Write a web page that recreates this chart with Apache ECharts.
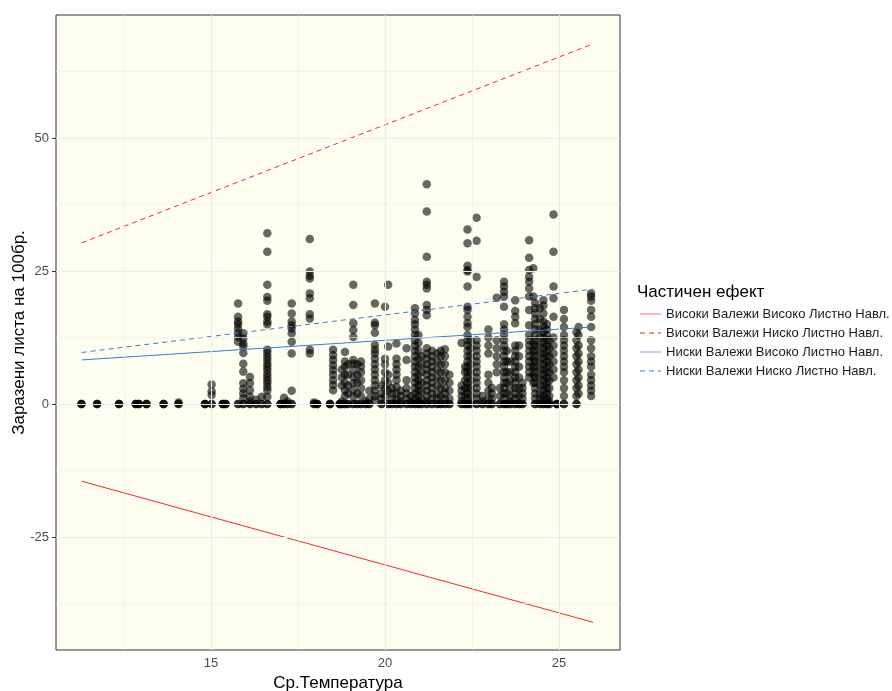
<!DOCTYPE html>
<html><head><meta charset="utf-8">
<script src="https://cdn.jsdelivr.net/npm/echarts@6/dist/echarts.min.js"></script>
<style>html,body{margin:0;padding:0;background:#fff}#c{width:892px;height:691px}</style>
</head><body><div id="c"></div><script>
// ---- data ----
const tempColumns = [11.28,11.73,12.36,12.84,12.93,13.15,13.64,14.07,14.83,15.02,15.34,15.42,15.78,15.93,16.12,16.3,16.46,16.62,17.0,17.1,17.2,17.32,17.84,17.96,18.05,18.42,18.51,18.7,18.76,18.85,18.94,19.09,19.2,19.31,19.45,19.55,19.71,19.9,20.0,20.09,20.2,20.33,20.45,20.62,20.75,20.86,20.96,21.05,21.2,21.35,21.5,21.6,21.72,21.85,22.2,22.3,22.37,22.45,22.63,22.8,22.97,23.07,23.21,23.3,23.42,23.5,23.6,23.74,23.85,23.95,24.14,24.26,24.31,24.45,24.55,24.65,24.72,24.84,24.94,25.14,25.5,25.56,25.92];
const infectedByColumn = [
 [0,0,0],[0,0,0],[0,0,0],[0,0,0],[0,0,0],[0,0,0],[0,0,0],[0,0,0.3],[0,0,0],
 [0,0,1.7,2.4,3.7],[0,0,0],[0,0,0],
 [0,0,11.7,12.6,13.4,14.2,15.0,15.5,16.4,18.9],
 [0,0,1.1,2.0,2.9,3.9,6.1,7.6,9.6,10.8,11.4,12.3,13.3],
 [0,0,0.5,1.4,2.6,3.9,5.1],
 [0,0,0.8],
 [0,0,1.4],
 [0,0,1.4,2.6,3.2,3.9,4.5,5.1,5.7,6.4,7.0,7.6,8.3,8.9,9.6,10.2,15.0,15.5,16.4,16.9,19.4,20.1,22.4,28.6,32.1],
 [0,0,0],[0,0,1.2],[0,0,0.5],
 [0,0,2.5,9.5,11.7,13.3,14.2,14.8,15.5,17.0,18.9],
 [9.5,10.2,16.1,16.9,19.9,20.8,23.6,24.1,24.9,31.0],
 [0,0,0.3],[0,0,0],[0,0,0],
 [2.6,3.6,4.5,5.5,6.4,7.3,8.3,9.2,10.2],
 [0,0,0],
 [0,0,0.5,3.5,5.0,6.5],
 [0,0,1.5,2.6,4.0,5.5,7.0,8.0,9.8],
 [0,0,2,3.5,5.5,7.5],
 [0,0,1.4,2.6,3.9,5.1,6.4,7.6,8.3,12.6,13.9,15.2,18.6,22.4],
 [0,0,2,4,5.5,7.5],
 [0,0,1.5,3,4.5,6,7,8],
 [0,0,0.5],
 [0,0,1,2.5],
 [0.8,1.5,2.5,3.5,4.5,5.5,6.5,7.5,8.5,9.5,10.2,11.1,13.4,14.8,15.3,18.9],
 [0,0,1,2,3.5],
 [1.5,3,4.5,6,7.5,8.5,18.3],
 [0,0,2.5,4,5.5,10.8,22.4],
 [0,0,1,2,3],
 [0,0,0.8,2,3.2,4.5,5.5,6.5,7.5,8.5,11.4],
 [0,0,0.5,1.5,2.5],
 [0,0,1,2,3,4.5,8.3,10.5],
 [0,0,0.5,1.5],
 [0,0,1,2,3,4,5,6,7,8,9,10,11,12,13,14,15,15.8,17.0,18.0],
 [0,0,0.5,1.5,2.5,3.5,4.5,5.5,7,8.5,10,11.5,13],
 [0,0,1,2.5,4,6,7.5,9],
 [0,0,0.5,1.5,2.5,3.5,4.5,5.5,6.5,7.5,8.5,9.5,10.5,16.7,17.7,18.6,21.7,22.4,23.0,27.7,36.2,41.3],
 [0,0,1,2,3,4,5,6,7,8,9,10],
 [0,0,1,2,3.5,5,6.5,8,9.5],
 [0,0,1.5,3,4.5,6,7.5,9,10],
 [0,0,1,2,3,4.5,6,7.5,9,10.3],
 [0,0,1,2.5,4,5.5],
 [0,0,0.5,1.5,2.5,3.5,11.5],
 [0,0,1.5,3,4.5,6,7],
 [0,0,1,2,3,4,5,6,7,8,9,10,11,12,13,14.5,15.2,16.4,17.7,18.3,22.1,24.9,25.2,26.0,30.2,32.8],
 [0,0,1.5,3,4.5,6,7.5,9,10.5,12],
 [0,0,1,2,3,4,5,6,7,8,9,10,11,12,23.9,30.7,35.0],
 [0,0,0.5,1.5],
 [0,0,1,2.5,4,5.5,9.5,11,12.5,14],
 [0,0,1,2,3],
 [6,7.5,9,10.5,12,20.0],
 [0,0,1.5,3],
 [0,0,1,2,3,4,5,6,7,8,9,10,11,12,13,14,15,18.3,20.2,21.1,22.1,23.0],
 [0,0,2,4,6,8,10],
 [0,0,0.5,1.5,3,4.5,6,8],
 [0,0,1,2,3,4,5,6,7,8,9,10,11,15.2,16.4,17.5,19.5],
 [0,0,1.5,3,5,7,9,11],
 [0,0,1,2,3,4],
 [5,6,7,8,9,10,11,12,13,14.8,17.7,20.2,21.7,23.0,23.9,25.2,27.5,30.8],
 [4,5.5,7,8.5,10,11.5,20.2,25.5],
 [0,0,1,2,3,4,5,6,7,8,9,10,11,12,13,14,15,16,17,18,19],
 [0,0,1,2,3.5,5,6.5,8,9.5,11,12.5,14,16,18],
 [0,0,0.7,1.5,2.5,3.5,4.5,5.5,6.5,7.5,8.5,9.5,10.5,11.5,12.5,13.5,14.5,15.5,17,18.5,19.5],
 [0,0,1,2,3,4,5,6,7,8,9,10,11,12,13,14,15],
 [0,0,0.5,1.5,3,4.5,6,7.5,9,10.5,12],
 [5,6.5,8,9.5,11,12.5,16.4,19.9,22.1,28.6,35.6],
 [0,0,0],
 [0,0,1.5,3,4.5,6,7,8,9,10,11,12,13,14.5,16,17.7],
 [0,0,1.5,3,4.5,6,7.5,9,10.5,12,13.5],
 [2,3.5,5,6.5,8,9.5,11,13,14.5],
 [1.5,2.5,3.5,4.5,5.5,7,8,9,10.5,12,14.5,16.4,17.7,19.4,20.2,20.8]
];
const effectX = [11.29, 25.98];
const highRainHighLeaf = [-14.5, -41.0];
const highRainLowLeaf = [30.3, 67.7];
const lowRainHighLeaf = [8.3, 14.5];
const lowRainLowLeaf = [9.7, 21.6];
const seriesNames = ['Високи Валежи Високо Листно Навл.','Високи Валежи Ниско Листно Навл.','Ниски Валежи Високо Листно Навл.','Ниски Валежи Ниско Листно Навл.'];
const legendTitle = 'Частичен ефект';
const xTicks = [15, 20, 25];
const xMinor = [12.5, 17.5, 22.5];
const yTicks = [-25, 0, 25, 50];
const yMinor = [-37.5, -12.5, 12.5, 37.5, 62.5];

// ---- build ----
const pts = [];
tempColumns.forEach((t, i) => infectedByColumn[i].forEach(v => pts.push([t, v])));
const mk = ys => effectX.map((x, i) => [x, ys[i]]);
const FONT = '"Liberation Sans", Arial, sans-serif';
const RED = '#F0282D', BLUE = '#3A7DC9';
const lineColors = [RED, RED, BLUE, BLUE];
const keyColors = ['rgba(240,40,45,0.6)', RED, 'rgba(58,125,201,0.6)', BLUE];
const lineTypes = ['solid', [5, 4], 'solid', [5, 4]];
const lineValues = [highRainHighLeaf, highRainLowLeaf, lowRainHighLeaf, lowRainLowLeaf];

const gridLines = [];
xTicks.forEach(v => gridLines.push({xAxis: v, lineStyle: {width: 1.1}}));
yTicks.forEach(v => gridLines.push({yAxis: v, lineStyle: {width: 1.1}}));
xMinor.forEach(v => gridLines.push({xAxis: v, lineStyle: {width: 0.6}}));
yMinor.forEach(v => gridLines.push({yAxis: v, lineStyle: {width: 0.6}}));

const legendGraphics = [{type: 'text', left: 637, top: 284,
  style: {text: legendTitle, fill: '#000', font: '17px ' + FONT}}];
seriesNames.forEach((n, i) => {
  const y = 314 + i * 19;
  legendGraphics.push({type: 'line', shape: {x1: 640, y1: y, x2: 661, y2: y},
    style: {stroke: keyColors[i], lineWidth: 1.1, lineDash: i % 2 ? [5, 4] : null}});
  legendGraphics.push({type: 'text', x: 666, y: y,
    style: {text: n, fill: '#1a1a1a', font: '13px ' + FONT, verticalAlign: 'middle', align: 'left'}});
});

const chart = echarts.init(document.getElementById('c'), null, {renderer: 'canvas'});
chart.setOption({
  animation: false,
  backgroundColor: '#ffffff',
  textStyle: {fontFamily: FONT},
  graphic: legendGraphics,
  grid: {left: 56, right: 272, top: 15, bottom: 41, show: true, containLabel: false,
    outerBoundsMode: 'none',
    backgroundColor: '#FEFEF0', borderColor: '#333333', borderWidth: 1},
  xAxis: {
    type: 'value', min: 10.55, max: 26.75,
    splitLine: {show: false}, axisLine: {show: false},
    axisTick: {show: true, customValues: xTicks, length: 4, lineStyle: {color: '#333'}},
    axisLabel: {customValues: xTicks, color: '#4D4D4D', fontSize: 13, margin: 7, fontFamily: FONT},
    name: 'Ср.Температура', nameLocation: 'middle', nameGap: 25,
    nameTextStyle: {color: '#000', fontSize: 17, fontFamily: FONT}
  },
  yAxis: {
    type: 'value', min: -46.2, max: 73.1,
    splitLine: {show: false}, axisLine: {show: false},
    axisTick: {show: true, customValues: yTicks, length: 4, lineStyle: {color: '#333'}},
    axisLabel: {customValues: yTicks, color: '#4D4D4D', fontSize: 13, margin: 7, fontFamily: FONT},
    name: 'Заразени листа на 100бр.', nameLocation: 'middle', nameGap: 28, nameMoveOverlap: false,
    nameTextStyle: {color: '#000', fontSize: 17, fontFamily: FONT}
  },
  series: [
    {type: 'line', data: [], silent: true, z: 1,
      markLine: {silent: true, symbol: 'none', label: {show: false},
        lineStyle: {color: '#EBEBEB', type: 'solid'}, data: gridLines}},
    {type: 'scatter', data: pts, symbol: 'circle', symbolSize: 8.5, z: 2, silent: true,
      itemStyle: {color: 'rgba(0,0,0,0.74)'}}
  ].concat(seriesNames.map((n, i) => ({
    name: n, type: 'line', data: mk(lineValues[i]), symbol: 'none', z: 3, silent: true,
    lineStyle: {color: lineColors[i], width: 1, type: lineTypes[i]}
  })))
});
</script></body></html>
